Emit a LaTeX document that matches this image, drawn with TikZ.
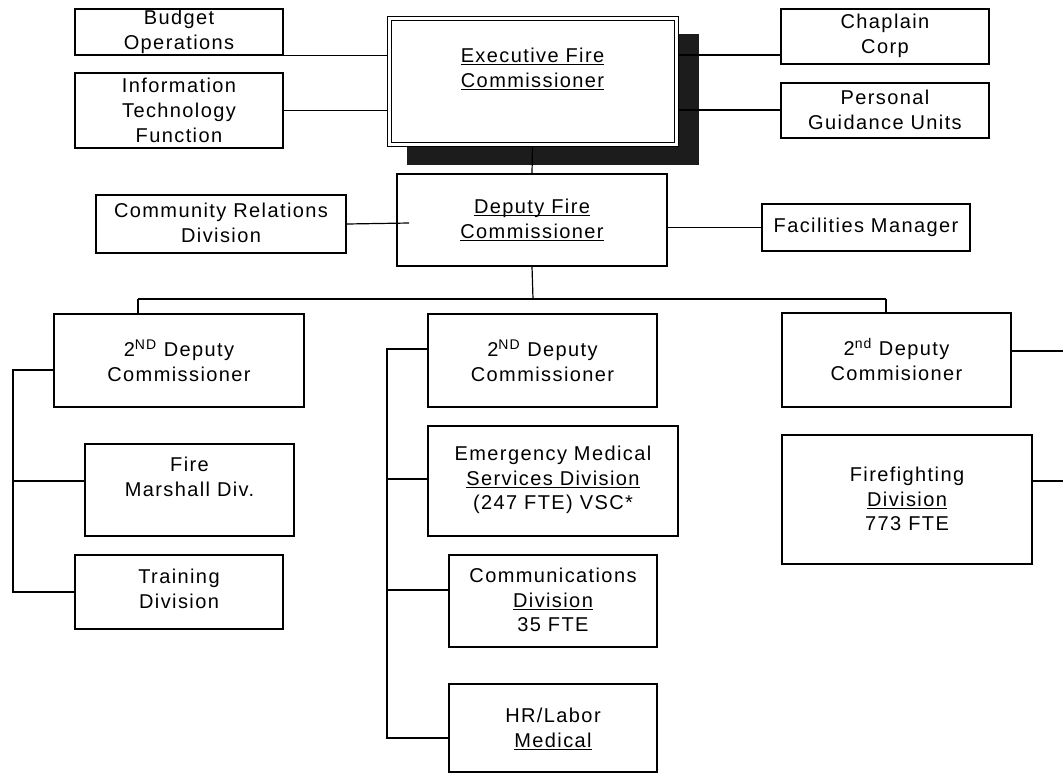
\documentclass[tikz,border=0pt]{standalone}
\usepackage{fontspec}
\setmainfont[LetterSpace=7]{Liberation Sans}
\usetikzlibrary{fit}
\newcommand\myul[1]{\setbox0\hbox{#1}\rlap{\rule[-2pt]{\wd0}{0.75pt}}\box0}
\definecolor{shadowc}{HTML}{1C1C1C}
\begin{document}
\begin{tikzpicture}[x=0.75pt,y=-0.75pt,
  box/.style={draw, line width=0.9pt, inner sep=0pt, fill=white},
  thinbox/.style={draw, line width=0.75pt, inner sep=0pt, fill=white},
  txt/.style={align=center, inner sep=0pt, font=\fontsize{15}{18.6}\selectfont},
  con/.style={line width=0.9pt}]
\useasboundingbox (0,0) rectangle (1063,776);
% shadow and executive box
\node[fill=shadowc, inner sep=0pt, fit={(407,34) (699,165)}] (shadow) {};
\node[thinbox, fit={(387,16) (678,146)}] (exec) {};
\node[thinbox, fit={(391,20) (674,142)}] (execIn) {};
\node[txt] (execT) at (532.5,69) {\myul{Executive Fire}\\\myul{Commissioner}};
% top side boxes
\node[box, fit={(75,9) (283,55)}] (budget) {};
\node[txt] (budgetT) at (179,32) {Budget\\Operations};
\node[box, fit={(75,73) (283,148)}] (it) {};
\node[txt] (itT) at (179,110.5) {Information\\Technology\\Function};
\node[box, fit={(781,9) (989,64)}] (chap) {};
\node[txt] (chapT) at (885,35.5) {Chaplain\\Corp};
\node[box, fit={(781,83) (989,138)}] (pers) {};
\node[txt] (persT) at (885,110) {Personal\\Guidance Units};
% deputy level
\node[box, fit={(397,174) (667,266)}] (dep) {};
\node[txt] (depT) at (532,220) {\myul{Deputy Fire}\\\myul{Commissioner}};
\node[box, fit={(96,195) (346,253)}] (comm) {};
\node[txt] (commT) at (221,223) {Community Relations\\Division};
\node[box, fit={(762,204) (970,251)}] (fac) {};
\node[txt] (facT) at (866,227.5) {Facilities Manager};
% second deputies
\node[box, fit={(54,314) (304,407)}] (dl) {};
\node[txt] (dlT) at (179,360.5) {2\textsuperscript{ND} Deputy\\Commissioner};
\node[box, fit={(428,314) (657,407)}] (dm) {};
\node[txt] (dmT) at (542.5,360.5) {2\textsuperscript{ND} Deputy\\Commissioner};
\node[box, fit={(782,313) (1011,407)}] (dr) {};
\node[txt] (drT) at (896.5,359.5) {2\textsuperscript{nd} Deputy\\Commisioner};
% left column
\node[box, fit={(85,444) (294,536)}] (fire) {};
\node[txt] (fireT) at (189.5,477) {Fire\\Marshall Div.};
\node[box, fit={(75,555) (283,629)}] (train) {};
\node[txt] (trainT) at (179,589) {Training\\Division};
% middle column
\node[box, fit={(428,426) (678,536)}] (ems) {};
\node[txt] (emsT) at (553,480) {Emergency Medical\\\myul{Services Division}\\(247 FTE) VSC*};
\node[box, fit={(449,555) (657,647)}] (cmn) {};
\node[txt] (cmnT) at (553,600) {Communications\\\myul{Division}\\35 FTE};
\node[box, fit={(449,684) (657,772)}] (hr) {};
\node[txt] (hrT) at (553,729) {HR/Labor\\\myul{Medical}};
% right column
\node[box, fit={(782,435) (1032,564)}] (ff) {};
\node[txt] (ffT) at (907,499) {Firefighting\\\myul{Division}\\773 FTE};
% coordinates
\coordinate (crEnd) at (409,223);
\coordinate (busL) at (138,299);
\coordinate (busM) at (533,299);
\coordinate (busR) at (886,299);
\coordinate (lb1) at (13,370);
\coordinate (lb2) at (13,481);
\coordinate (lb3) at (13,592);
\coordinate (mb1) at (387,349);
\coordinate (mb2) at (387,479);
\coordinate (mb3) at (387,590);
\coordinate (mb4) at (387,738);
\coordinate (re1) at (1063,351);
\coordinate (re2) at (1063,481);
\coordinate (chapY) at (0,55);
\coordinate (persY) at (0,110);
% connectors
\draw[con] (budget.south east) -- (budget.south east -| exec.west);
\draw[con] (it.east) -- (it.east -| exec.west);
\draw[con] (exec.east |- chapY) -- (chap.west |- chapY);
\draw[con] (exec.east |- persY) -- (pers.west |- persY);
\draw[con] (exec.south) -- (dep.north);
\draw[con] (comm.east) -- (crEnd);
\draw[con] (dep.east |- fac.west) -- (fac.west);
\draw[con] (dep.south) -- (busM);
\draw[con] (busL) -- (busR);
\draw[con] (busL) -- (busL |- dl.north);
\draw[con] (busR) -- (busR |- dr.north);
\draw[con] (dl.west |- lb1) -- (lb1) -- (lb3) -- (train.west);
\draw[con] (lb2) -- (fire.west |- lb2);
\draw[con] (dm.west |- mb1) -- (mb1) -- (mb4) -- (hr.west |- mb4);
\draw[con] (mb2) -- (ems.west |- mb2);
\draw[con] (mb3) -- (cmn.west |- mb3);
\draw[con] (dr.east |- re1) -- (re1);
\draw[con] (ff.east |- re2) -- (re2);
\end{tikzpicture}
\end{document}
